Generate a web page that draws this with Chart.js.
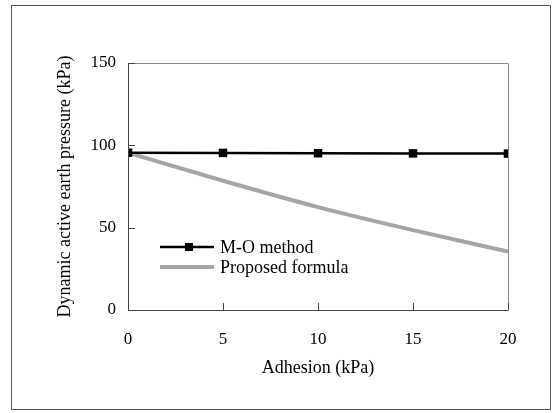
<!DOCTYPE html>
<html>
<head>
<meta charset="utf-8">
<script src="https://cdn.jsdelivr.net/npm/chart.js@4"></script>
<style>
  html, body { margin: 0; padding: 0; background: #fff; }
  #wrap { position: relative; width: 559px; height: 413px; }
  #frame { position: absolute; left: 11px; top: 5px; width: 540px; height: 405px; border: 1px solid #555; box-sizing: border-box; pointer-events: none; }
</style>
</head>
<body>
<div id="wrap">
  <canvas id="chart" width="559" height="413"></canvas>
  <div id="frame"></div>
</div>
<script>
const adhesion = [0, 5, 10, 15, 20];
const moMethod = [95.5, 95.4, 95.2, 95.1, 95.0];
const proposedFormula = [95.5, 78.5, 62.5, 48.5, 35.5];
const xTicks = [0, 5, 10, 15, 20];
const yTicks = [0, 50, 100, 150];

const serif = "'Liberation Serif', 'Times New Roman', serif";

// box round the plot, inward tick marks and the legend inside the plot
const framePlugin = {
  id: "frame",
  afterDatasetsDraw(chart) {
    const { ctx, chartArea: a, scales } = chart;
    ctx.save();
    ctx.lineWidth = 1;
    ctx.strokeStyle = "#8a8a8a";
    ctx.beginPath();
    ctx.moveTo(a.left, a.top + 0.5);
    ctx.lineTo(a.right + 0.5, a.top + 0.5);
    ctx.lineTo(a.right + 0.5, a.bottom);
    ctx.stroke();
    ctx.strokeStyle = "#444";
    ctx.beginPath();
    ctx.moveTo(a.left + 0.5, a.top);
    ctx.lineTo(a.left + 0.5, a.bottom + 0.5);
    ctx.lineTo(a.right + 0.5, a.bottom + 0.5);
    ctx.stroke();

    ctx.beginPath();
    xTicks.forEach((v) => {
      const px = Math.round(scales.x.getPixelForValue(v)) + 0.5;
      ctx.moveTo(px, a.bottom);
      ctx.lineTo(px, a.bottom - 7);
    });
    yTicks.forEach((v) => {
      const py = Math.round(scales.y.getPixelForValue(v)) + 0.5;
      ctx.moveTo(a.left, py);
      ctx.lineTo(a.left + 7, py);
    });
    ctx.stroke();

    // legend
    const lx = a.left + 32;
    const ly = a.top + 184;
    ctx.font = "18px " + serif;
    ctx.textBaseline = "middle";
    ctx.fillStyle = "#000";
    chart.data.datasets.forEach((ds, i) => {
      const y = ly + i * 20;
      ctx.strokeStyle = ds.borderColor;
      ctx.lineWidth = ds.borderWidth;
      ctx.beginPath();
      ctx.moveTo(lx, y);
      ctx.lineTo(lx + 54, y);
      ctx.stroke();
      if (ds.pointRadius > 0) {
        ctx.fillStyle = ds.pointBackgroundColor;
        ctx.fillRect(lx + 25, y - 4, 8, 8);
      }
      ctx.fillStyle = "#000";
      ctx.fillText(ds.label, lx + 60, y + 1);
    });
    ctx.restore();
  },
};

new Chart(document.getElementById("chart").getContext("2d"), {
  type: "line",
  data: {
    labels: adhesion,
    datasets: [
      {
        label: "M-O method",
        data: adhesion.map((x, i) => ({ x: x, y: moMethod[i] })),
        borderColor: "#000",
        borderWidth: 2.5,
        pointStyle: "rect",
        pointRadius: 6,
        pointBackgroundColor: "#000",
        pointBorderColor: "#000",
        pointBorderWidth: 0,
      },
      {
        label: "Proposed formula",
        data: adhesion.map((x, i) => ({ x: x, y: proposedFormula[i] })),
        borderColor: "rgb(165,165,165)",
        borderWidth: 4,
        pointRadius: 0,
        cubicInterpolationMode: "monotone",
      },
    ],
  },
  plugins: [framePlugin],
  options: {
    responsive: false,
    animation: false,
    layout: { padding: { left: 40, right: 51, top: 63, bottom: 30 } },
    plugins: {
      legend: { display: false },
      tooltip: { enabled: false },
    },
    scales: {
      x: {
        type: "linear",
        min: 0,
        max: 20,
        afterFit: (scale) => { scale.height = 73; },
        afterBuildTicks: (scale) => { scale.ticks = xTicks.map((v) => ({ value: v })); },
        grid: { display: false, drawTicks: false },
        border: { display: false },
        ticks: { padding: 19, color: "#000", font: { family: serif, size: 17 } },
        title: {
          display: true,
          text: "Adhesion (kPa)",
          color: "#000",
          padding: { top: 0, bottom: 4 },
          font: { family: serif, size: 18 },
        },
      },
      y: {
        min: 0,
        max: 150,
        afterFit: (scale) => { scale.width = 88; },
        afterBuildTicks: (scale) => { scale.ticks = yTicks.map((v) => ({ value: v })); },
        grid: { display: false, drawTicks: false },
        border: { display: false },
        ticks: { padding: 12, color: "#000", font: { family: serif, size: 17 } },
        title: {
          display: true,
          text: "Dynamic active earth pressure (kPa)",
          color: "#000",
          padding: { top: 14, bottom: 0 },
          font: { family: serif, size: 18 },
        },
      },
    },
  },
});
</script>
</body>
</html>
